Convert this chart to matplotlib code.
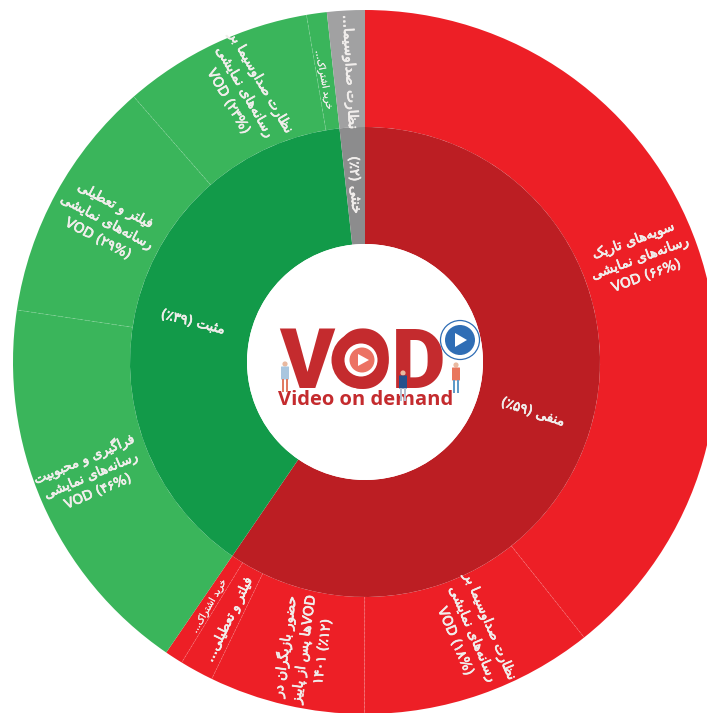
import re
import numpy as np
import matplotlib
matplotlib.use("Agg")
import matplotlib.pyplot as plt
import matplotlib.patheffects as pe
from matplotlib.patches import Circle, Polygon, Rectangle, FancyBboxPatch

# inner ring
inner_names = ["منفی", "مثبت", "خنثی"]
inner_values = [59.55, 38.72, 1.73]

# outer ring, percent of the parent slice
neg_values = [66, 18, 12, 2.6, 1.4]
pos_values = [46, 29, 22.6, 2.4]
neu_values = [100]

inner_labels = ["منفی (٪۵۹)", "مثبت (٪۳۹)", "خنثی (٪۲)"]
neg_labels = [
    ["سویه‌های تاریک", "رسانه‌های نمایشی", "VOD (۶۶%)"],
    ["نظارت صداوسیما بر", "رسانه‌های نمایشی", "VOD (۱۸%)"],
    ["حضور بازیگران در", "VODها پس از پاییز", "۱۴۰۱ (٪۱۲)"],
    ["فیلتر و تعطیلی..."],
    ["خرید اشتراک..."],
]
pos_labels = [
    ["فراگیری و محبوبیت", "رسانه‌های نمایشی", "VOD (۴۶%)"],
    ["فیلتر و تعطیلی", "رسانه‌های نمایشی", "VOD (۲۹%)"],
    ["نظارت صداوسیما بر", "رسانه‌های نمایشی", "VOD (۲۳%)"],
    ["خرید اشتراک..."],
]
neu_labels = [["نظارت صداوسیما..."]]

# isolated, final, initial, medial
FORMS = {}
for ch, base in zip("بتثجحخسشصضطظعغفقلمنه",
                    [0xFE8F, 0xFE95, 0xFE99, 0xFE9D, 0xFEA1, 0xFEA5, 0xFEB1, 0xFEB5, 0xFEB9, 0xFEBD,
                     0xFEC1, 0xFEC5, 0xFEC9, 0xFECD, 0xFED1, 0xFED5, 0xFEDD, 0xFEE1, 0xFEE5, 0xFEE9]):
    FORMS[ch] = [base, base + 1, base + 2, base + 3]
for ch, base in zip("پچکگی", [0xFB56, 0xFB7A, 0xFB8E, 0xFB92, 0xFBFC]):
    FORMS[ch] = [base, base + 1, base + 2, base + 3]
for ch, base in zip("اآدذرزژو", [0xFE8D, 0xFE81, 0xFEA9, 0xFEAB, 0xFEAD, 0xFEAF, 0xFB8A, 0xFEED]):
    FORMS[ch] = [base, base + 1]

AR = "[\u0621-\u064A\u067E\u0686\u0698\u06A9\u06AF\u06CC\u200c]+"


def shape_word(word):
    # matplotlib has no arabic shaping, pick the joined glyphs by hand
    out = []
    for i, ch in enumerate(word):
        if ch == "\u200c":
            continue
        prev_joins = i > 0 and word[i - 1] in FORMS and len(FORMS[word[i - 1]]) == 4
        next_joins = i < len(word) - 1 and word[i + 1] in FORMS
        f = FORMS[ch]
        if len(f) == 2:
            out.append(chr(f[1] if prev_joins else f[0]))
        elif prev_joins and next_joins:
            out.append(chr(f[3]))
        elif prev_joins:
            out.append(chr(f[1]))
        elif next_joins:
            out.append(chr(f[2]))
        else:
            out.append(chr(f[0]))
    return "".join(out[::-1])


def fa(line):
    if not re.search(AR, line):
        return line
    tokens = []
    for tok in line.split(" "):
        runs = re.findall(AR + "|[^\u0621-\u064A\u067E\u0686\u0698\u06A9\u06AF\u06CC\u200c]+", tok)
        runs = [shape_word(r) if re.fullmatch(AR, r) else r for r in runs]
        tokens.append("".join(runs[::-1]))
    return " ".join(tokens[::-1])


plt.rcParams["font.family"] = ["DejaVu Sans"]

W, H = 707, 713
cx, cy = 365, H - 362
R_in, R_mid, R_out = 118, 235, 352

fig = plt.figure(figsize=(W / 100, H / 100), dpi=100)
ax = fig.add_axes([0, 0, 1, 1])

RED, DRED = "#ED1F26", "#BC1E23"
GREEN, DGREEN = "#3AB55B", "#129A49"
GRAY, DGRAY = "#A1A1A2", "#8C8C8D"

# scale the outer slices into their parent so both rings line up
outer_values = []
outer_colors = []
for parent, kids, col in zip(inner_values, [neg_values, pos_values, neu_values], [RED, GREEN, GRAY]):
    total = sum(kids)
    for k in kids:
        outer_values.append(parent * k / total)
        outer_colors.append(col)

ax.pie(outer_values, radius=R_out, center=(cx, cy), startangle=90, counterclock=False,
       colors=outer_colors, wedgeprops=dict(width=R_out - R_mid, linewidth=0))
ax.pie(inner_values, radius=R_mid, center=(cx, cy), startangle=90, counterclock=False,
       colors=[DRED, DGREEN, DGRAY], wedgeprops=dict(width=R_mid - R_in, linewidth=0))

# faint dashed dividers inside the outer ring
acc = 0
for v, col, nxt in zip(outer_values, outer_colors, outer_colors[1:]):
    acc += v
    if col != nxt:
        continue
    a = np.pi / 2 - acc / 100 * 2 * np.pi
    ax.plot([cx + R_mid * np.cos(a), cx + R_out * np.cos(a)],
            [cy + R_mid * np.sin(a), cy + R_out * np.sin(a)],
            color="white", alpha=0.16, lw=0.7, ls=(0, (2, 2)))


def label(x, y, lines, rot, size, stroke=0.5):
    txt = "\n".join(fa(l) for l in lines)
    ax.text(x, H - y, txt, rotation=rot, rotation_mode="anchor", ha="center", va="center",
            multialignment="center", color="#F1EEEC", fontsize=size, linespacing=1.42,
            path_effects=[pe.withStroke(linewidth=stroke, foreground="#F1EEEC")])


# inner ring labels
label(533, 412, [inner_labels[0]], -18, 9.8)
label(193, 322, [inner_labels[1]], -14, 9.8)
label(355, 185, [inner_labels[2]], -87, 9.8)

# outer ring labels
label(640, 258, neg_labels[0], 20, 9.8)
label(473, 634, neg_labels[1], -67, 9.8)
label(303, 649, neg_labels[2], 82, 9.8)
label(229, 620, neg_labels[3], 64, 9.4)
label(209, 606, neg_labels[4], 60, 6.8, 0.1)
label(91, 475, pos_labels[0], 23, 9.6)
label(107, 222, pos_labels[1], -28, 9.8)
label(245, 92, pos_labels[2], -60, 9.8)
label(324, 80, pos_labels[3], -79, 6.8, 0.1)
label(350, 72, neu_labels[0], -87, 10)

# logo in the hole
LOGO = "#C42B2E"
ax.add_patch(Circle((cx, cy), R_in, color="white", lw=0, zorder=3))
ax.text(362, H - 388, "VOD", color=LOGO, fontsize=60, fontweight=900, family="Roboto",
        ha="center", va="baseline", zorder=4)
ax.text(366, H - 400, "Video on demand", color=LOGO, fontsize=14.5, fontweight="bold",
        family="Open Sans", ha="center", va="center", zorder=4)

# the O of the logo with its play button
ax.add_patch(Circle((360, H - 360), 28.5, color=LOGO, lw=0, zorder=5))
ax.add_patch(Circle((361, H - 360), 16.5, color="white", lw=0, zorder=5))
ax.add_patch(Circle((362, H - 360), 12.5, color="#EC7263", lw=0, zorder=5))
ax.add_patch(Polygon([(358, H - 366), (358, H - 354), (369, H - 360)], color="white", lw=0, zorder=6))

# blue badge
ax.add_patch(Circle((460, H - 340), 15, color="#2F6DB5", lw=0, zorder=5))
ax.add_patch(Circle((460, H - 340), 19.5, fill=False, ec="#2F6DB5", lw=0.9, zorder=5))
ax.add_patch(Polygon([(455, H - 347), (455, H - 333), (467, H - 340)], color="white", lw=0, zorder=6))


def person(x, y, shirt, legs):
    # tiny logo figure, y is the top of the head
    ax.add_patch(Circle((x, H - y - 3), 2.6, color="#E9B9A0", lw=0, zorder=7))
    ax.add_patch(FancyBboxPatch((x - 3.5, H - y - 18), 7, 12, boxstyle="round,pad=0.5", color=shirt, lw=0, zorder=7))
    ax.add_patch(Rectangle((x - 3.2, H - y - 31), 2.4, 13, color=legs, lw=0, zorder=7))
    ax.add_patch(Rectangle((x + 0.8, H - y - 31), 2.4, 13, color=legs, lw=0, zorder=7))


person(285, 361, "#A9C6DF", "#E07B62")
person(403, 370, "#25508C", "#B6BFD0")
person(456, 362, "#E9775E", "#5E9BC9")

ax.set_xlim(0, W)
ax.set_ylim(0, H)
ax.set_aspect("equal")
ax.axis("off")
fig.savefig("out.png", dpi=100, facecolor="white")
